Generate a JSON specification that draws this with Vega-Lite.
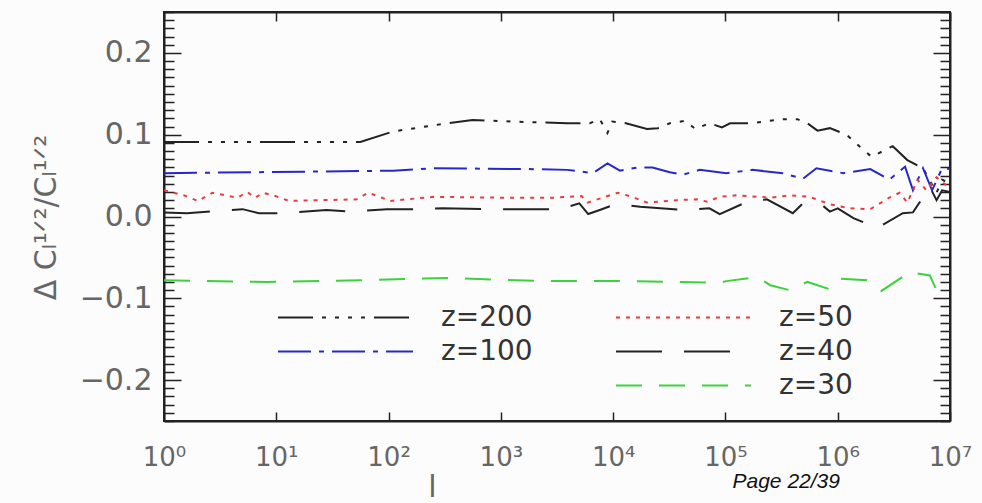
{
  "$schema": "https://vega.github.io/schema/vega-lite/v6.json",
  "autosize": "none",
  "width": 786,
  "height": 409,
  "padding": {"left": 164, "top": 12, "right": 32, "bottom": 82},
  "background": "#fcfcfc",
  "config": {
    "font": "DejaVu Sans",
    "view": {"stroke": "#222222", "strokeWidth": 2},
    "axis": {"grid": false, "domainColor": "#222222", "domainWidth": 2, "tickColor": "#222222", "tickWidth": 1.5, "labelColor": "#666666", "titleColor": "#666666", "titleFontWeight": "normal"},
    "legend": {"padding": 0, "symbolType": "M-5,0H5", "symbolSize": 729, "symbolStrokeWidth": 2, "labelFontSize": 28, "labelColor": "#333333", "labelFont": "DejaVu Sans", "labelOffset": 81, "rowPadding": 5, "title": null}
  },
  "data": {"values": [
    {"z": "z=200", "l": 1, "v": 0.091},
    {"z": "z=200", "l": 56, "v": 0.091},
    {"z": "z=200", "l": 110, "v": 0.104},
    {"z": "z=200", "l": 300, "v": 0.113},
    {"z": "z=200", "l": 560, "v": 0.118},
    {"z": "z=200", "l": 1700, "v": 0.1155},
    {"z": "z=200", "l": 3900, "v": 0.114},
    {"z": "z=200", "l": 6200, "v": 0.114},
    {"z": "z=200", "l": 7600, "v": 0.119},
    {"z": "z=200", "l": 8900, "v": 0.102},
    {"z": "z=200", "l": 9800, "v": 0.116},
    {"z": "z=200", "l": 13000, "v": 0.114},
    {"z": "z=200", "l": 20000, "v": 0.107},
    {"z": "z=200", "l": 25000, "v": 0.108},
    {"z": "z=200", "l": 32000, "v": 0.114},
    {"z": "z=200", "l": 44000, "v": 0.117},
    {"z": "z=200", "l": 54000, "v": 0.107},
    {"z": "z=200", "l": 72000, "v": 0.114},
    {"z": "z=200", "l": 93000, "v": 0.109},
    {"z": "z=200", "l": 110000, "v": 0.114},
    {"z": "z=200", "l": 166000, "v": 0.114},
    {"z": "z=200", "l": 324000, "v": 0.119},
    {"z": "z=200", "l": 437000, "v": 0.119},
    {"z": "z=200", "l": 537000, "v": 0.114},
    {"z": "z=200", "l": 661000, "v": 0.105},
    {"z": "z=200", "l": 851000, "v": 0.108},
    {"z": "z=200", "l": 1200000, "v": 0.100},
    {"z": "z=200", "l": 1585000, "v": 0.085},
    {"z": "z=200", "l": 2000000, "v": 0.073},
    {"z": "z=200", "l": 3090000, "v": 0.086},
    {"z": "z=200", "l": 4170000, "v": 0.069},
    {"z": "z=200", "l": 5750000, "v": 0.059},
    {"z": "z=200", "l": 7590000, "v": 0.029},
    {"z": "z=200", "l": 8510000, "v": 0.045},
    {"z": "z=200", "l": 10000000, "v": 0.040},
    {"z": "z=100", "l": 1, "v": 0.053},
    {"z": "z=100", "l": 110, "v": 0.056},
    {"z": "z=100", "l": 250, "v": 0.059},
    {"z": "z=100", "l": 1700, "v": 0.058},
    {"z": "z=100", "l": 3900, "v": 0.057},
    {"z": "z=100", "l": 6600, "v": 0.053},
    {"z": "z=100", "l": 8900, "v": 0.065},
    {"z": "z=100", "l": 11500, "v": 0.056},
    {"z": "z=100", "l": 16600, "v": 0.060},
    {"z": "z=100", "l": 22400, "v": 0.060},
    {"z": "z=100", "l": 32000, "v": 0.054},
    {"z": "z=100", "l": 41700, "v": 0.051},
    {"z": "z=100", "l": 58900, "v": 0.057},
    {"z": "z=100", "l": 102000, "v": 0.053},
    {"z": "z=100", "l": 174000, "v": 0.057},
    {"z": "z=100", "l": 324000, "v": 0.053},
    {"z": "z=100", "l": 490000, "v": 0.046},
    {"z": "z=100", "l": 646000, "v": 0.059},
    {"z": "z=100", "l": 1120000, "v": 0.053},
    {"z": "z=100", "l": 1950000, "v": 0.058},
    {"z": "z=100", "l": 2880000, "v": 0.045},
    {"z": "z=100", "l": 3980000, "v": 0.061},
    {"z": "z=100", "l": 4680000, "v": 0.032},
    {"z": "z=100", "l": 5750000, "v": 0.059},
    {"z": "z=100", "l": 6920000, "v": 0.032},
    {"z": "z=100", "l": 8510000, "v": 0.059},
    {"z": "z=100", "l": 10000000, "v": 0.058},
    {"z": "z=50", "l": 1, "v": 0.032},
    {"z": "z=50", "l": 1.5, "v": 0.026},
    {"z": "z=50", "l": 2, "v": 0.019},
    {"z": "z=50", "l": 2.7, "v": 0.029},
    {"z": "z=50", "l": 4.5, "v": 0.023},
    {"z": "z=50", "l": 5.5, "v": 0.030},
    {"z": "z=50", "l": 6.5, "v": 0.023},
    {"z": "z=50", "l": 7.6, "v": 0.029},
    {"z": "z=50", "l": 9.8, "v": 0.025},
    {"z": "z=50", "l": 13, "v": 0.019},
    {"z": "z=50", "l": 52, "v": 0.021},
    {"z": "z=50", "l": 66, "v": 0.029},
    {"z": "z=50", "l": 84, "v": 0.024},
    {"z": "z=50", "l": 102, "v": 0.019},
    {"z": "z=50", "l": 145, "v": 0.021},
    {"z": "z=50", "l": 250, "v": 0.024},
    {"z": "z=50", "l": 1000, "v": 0.023},
    {"z": "z=50", "l": 3000, "v": 0.023},
    {"z": "z=50", "l": 5250, "v": 0.025},
    {"z": "z=50", "l": 5900, "v": 0.017},
    {"z": "z=50", "l": 11000, "v": 0.029},
    {"z": "z=50", "l": 14800, "v": 0.024},
    {"z": "z=50", "l": 20000, "v": 0.017},
    {"z": "z=50", "l": 37000, "v": 0.020},
    {"z": "z=50", "l": 56000, "v": 0.021},
    {"z": "z=50", "l": 69000, "v": 0.018},
    {"z": "z=50", "l": 89000, "v": 0.024},
    {"z": "z=50", "l": 126000, "v": 0.026},
    {"z": "z=50", "l": 251000, "v": 0.023},
    {"z": "z=50", "l": 372000, "v": 0.026},
    {"z": "z=50", "l": 562000, "v": 0.024},
    {"z": "z=50", "l": 851000, "v": 0.015},
    {"z": "z=50", "l": 1290000, "v": 0.010},
    {"z": "z=50", "l": 1950000, "v": 0.009},
    {"z": "z=50", "l": 2880000, "v": 0.023},
    {"z": "z=50", "l": 3550000, "v": 0.029},
    {"z": "z=50", "l": 4170000, "v": 0.017},
    {"z": "z=50", "l": 5130000, "v": 0.045},
    {"z": "z=50", "l": 6170000, "v": 0.032},
    {"z": "z=50", "l": 7590000, "v": 0.048},
    {"z": "z=50", "l": 8710000, "v": 0.041},
    {"z": "z=50", "l": 10000000, "v": 0.035},
    {"z": "z=40", "l": 1, "v": 0.005},
    {"z": "z=40", "l": 1.6, "v": 0.004},
    {"z": "z=40", "l": 5, "v": 0.009},
    {"z": "z=40", "l": 7, "v": 0.004},
    {"z": "z=40", "l": 11, "v": 0.004},
    {"z": "z=40", "l": 28, "v": 0.008},
    {"z": "z=40", "l": 45, "v": 0.006},
    {"z": "z=40", "l": 97, "v": 0.009},
    {"z": "z=40", "l": 180, "v": 0.009},
    {"z": "z=40", "l": 300, "v": 0.010},
    {"z": "z=40", "l": 760, "v": 0.009},
    {"z": "z=40", "l": 1290, "v": 0.009},
    {"z": "z=40", "l": 3400, "v": 0.009},
    {"z": "z=40", "l": 5000, "v": 0.016},
    {"z": "z=40", "l": 6000, "v": 0.003},
    {"z": "z=40", "l": 7600, "v": 0.008},
    {"z": "z=40", "l": 10500, "v": 0.015},
    {"z": "z=40", "l": 17400, "v": 0.012},
    {"z": "z=40", "l": 41700, "v": 0.008},
    {"z": "z=40", "l": 72000, "v": 0.010},
    {"z": "z=40", "l": 89000, "v": 0.003},
    {"z": "z=40", "l": 145000, "v": 0.016},
    {"z": "z=40", "l": 234000, "v": 0.021},
    {"z": "z=40", "l": 398000, "v": 0.004},
    {"z": "z=40", "l": 490000, "v": 0.016},
    {"z": "z=40", "l": 741000, "v": 0.013},
    {"z": "z=40", "l": 851000, "v": 0.006},
    {"z": "z=40", "l": 1000000, "v": 0.010},
    {"z": "z=40", "l": 1380000, "v": -0.002},
    {"z": "z=40", "l": 2240000, "v": -0.014},
    {"z": "z=40", "l": 3800000, "v": 0.004},
    {"z": "z=40", "l": 4680000, "v": 0.005},
    {"z": "z=40", "l": 6610000, "v": 0.036},
    {"z": "z=40", "l": 7590000, "v": 0.020},
    {"z": "z=40", "l": 8510000, "v": 0.032},
    {"z": "z=40", "l": 10000000, "v": 0.030},
    {"z": "z=30", "l": 1, "v": -0.078},
    {"z": "z=30", "l": 8.3, "v": -0.080},
    {"z": "z=30", "l": 56, "v": -0.078},
    {"z": "z=30", "l": 350, "v": -0.075},
    {"z": "z=30", "l": 850, "v": -0.077},
    {"z": "z=30", "l": 2350, "v": -0.079},
    {"z": "z=30", "l": 5900, "v": -0.079},
    {"z": "z=30", "l": 15100, "v": -0.079},
    {"z": "z=30", "l": 37000, "v": -0.080},
    {"z": "z=30", "l": 89000, "v": -0.081},
    {"z": "z=30", "l": 102000, "v": -0.079},
    {"z": "z=30", "l": 191000, "v": -0.074},
    {"z": "z=30", "l": 251000, "v": -0.084},
    {"z": "z=30", "l": 372000, "v": -0.090},
    {"z": "z=30", "l": 537000, "v": -0.080},
    {"z": "z=30", "l": 851000, "v": -0.089},
    {"z": "z=30", "l": 1050000, "v": -0.076},
    {"z": "z=30", "l": 1820000, "v": -0.078},
    {"z": "z=30", "l": 2450000, "v": -0.091},
    {"z": "z=30", "l": 4370000, "v": -0.068},
    {"z": "z=30", "l": 6610000, "v": -0.072},
    {"z": "z=30", "l": 7590000, "v": -0.090},
    {"z": "z=30", "l": 10000000, "v": -0.085}
  ]},
  "layer": [
    {
      "transform": [{"filter": "datum.z === 'z=200' || datum.z === 'z=100'"}],
      "mark": {"type": "line", "strokeWidth": 2, "clip": true},
      "encoding": {
        "x": {"field": "l", "type": "quantitative",
          "scale": {"type": "log", "domain": [1, 10000000], "nice": false},
          "axis": {"orient": "bottom", "values": [1, 10, 100, 1000, 10000, 100000, 1000000, 10000000],
            "labelExpr": "'10' + ['⁰','¹','²','³','⁴','⁵','⁶','⁷'][round(log(datum.value)/LN10)]",
            "tickSize": -9, "labelPadding": 32, "labelFontSize": 26, "labelFlush": false, "labelOverlap": false,
            "title": "l", "titleFontSize": 30, "titleX": 268, "titleY": 81, "titleAlign": "center", "titleBaseline": "bottom"}},
        "y": {"field": "v", "type": "quantitative",
          "scale": {"domain": [-0.25, 0.25], "nice": false, "zero": false},
          "axis": {"orient": "left",
            "values": [-0.25,-0.24,-0.23,-0.22,-0.21,-0.2,-0.19,-0.18,-0.17,-0.16,-0.15,-0.14,-0.13,-0.12,-0.11,-0.1,-0.09,-0.08,-0.07,-0.06,-0.05,-0.04,-0.03,-0.02,-0.01,0,0.01,0.02,0.03,0.04,0.05,0.06,0.07,0.08,0.09,0.1,0.11,0.12,0.13,0.14,0.15,0.16,0.17,0.18,0.19,0.2,0.21,0.22,0.23,0.24,0.25],
            "labelExpr": "abs(round(datum.value*100)) % 10 === 0 ? format(datum.value, '.1f') : ''",
            "tickSize": {"condition": {"test": "abs(round(datum.value*100)) % 10 === 0", "value": -17}, "value": -10},
            "labelPadding": 29, "labelFontSize": 30, "labelFlush": false, "labelOverlap": false,
            "title": "Δ Cₗ¹ᐟ²/Cₗ¹ᐟ²", "titleFontSize": 30, "titleX": -118, "titleY": 205, "titleAngle": 270, "titleAlign": "center", "titleBaseline": "middle"}},
        "color": {"field": "z", "type": "nominal",
          "scale": {"domain": ["z=200", "z=100"], "range": ["#222222", "#2828c8"]},
          "legend": {"orient": "none", "legendX": 167, "legendY": 291, "direction": "vertical"}},
        "strokeDash": {"field": "z", "type": "nominal",
          "scale": {"domain": ["z=200", "z=100"], "range": [[35, 9, 4, 9, 4, 9, 4, 9, 4, 9], [33, 8, 5, 8]]},
          "legend": {"orient": "none", "legendX": 167, "legendY": 291, "direction": "vertical"}}
      }
    },
    {
      "transform": [{"filter": "datum.z === 'z=50' || datum.z === 'z=40' || datum.z === 'z=30'"}],
      "mark": {"type": "line", "strokeWidth": 2, "clip": true},
      "encoding": {
        "x": {"field": "l", "type": "quantitative",
          "scale": {"type": "log", "domain": [1, 10000000], "nice": false},
          "axis": {"orient": "top", "values": [1, 10, 100, 1000, 10000, 100000, 1000000, 10000000],
            "labels": false, "tickSize": -9,
            "title": "Page 22/39", "titleFont": "Liberation Sans", "titleFontStyle": "italic", "titleFontSize": 21, "titleColor": "#111111",
            "titleX": 568, "titleY": 475, "titleAlign": "left", "titleBaseline": "alphabetic"}},
        "y": {"field": "v", "type": "quantitative",
          "scale": {"domain": [-0.25, 0.25], "nice": false, "zero": false},
          "axis": {"orient": "right",
            "values": [-0.25,-0.24,-0.23,-0.22,-0.21,-0.2,-0.19,-0.18,-0.17,-0.16,-0.15,-0.14,-0.13,-0.12,-0.11,-0.1,-0.09,-0.08,-0.07,-0.06,-0.05,-0.04,-0.03,-0.02,-0.01,0,0.01,0.02,0.03,0.04,0.05,0.06,0.07,0.08,0.09,0.1,0.11,0.12,0.13,0.14,0.15,0.16,0.17,0.18,0.19,0.2,0.21,0.22,0.23,0.24,0.25],
            "labels": false,
            "tickSize": {"condition": {"test": "abs(round(datum.value*100)) % 10 === 0", "value": -17}, "value": -10},
            "title": null}},
        "color": {"field": "z", "type": "nominal",
          "scale": {"domain": ["z=50", "z=40", "z=30"], "range": ["#e83c3c", "#222222", "#3cd23c"]},
          "legend": {"orient": "none", "legendX": 505, "legendY": 291, "direction": "vertical"}},
        "strokeDash": {"field": "z", "type": "nominal",
          "scale": {"domain": ["z=50", "z=40", "z=30"], "range": [[4, 6], [46, 22], [26, 17]]},
          "legend": {"orient": "none", "legendX": 505, "legendY": 291, "direction": "vertical"}}
      }
    }
  ],
  "resolve": {
    "scale": {"color": "independent", "strokeDash": "independent"},
    "axis": {"x": "independent", "y": "independent"}
  }
}
